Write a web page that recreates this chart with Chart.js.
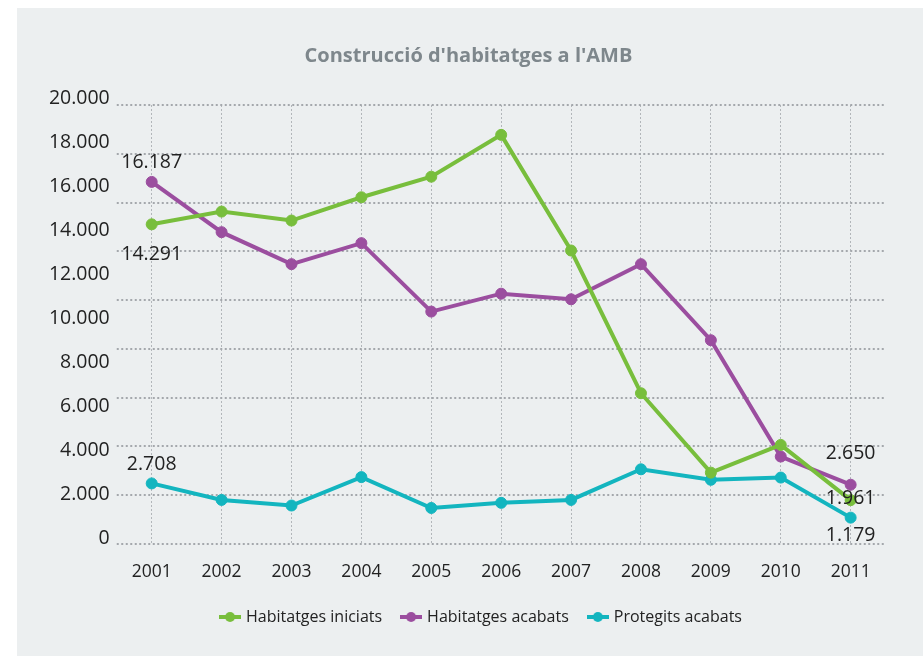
<!DOCTYPE html>
<html><head><meta charset="utf-8">
<script src="https://cdn.jsdelivr.net/npm/chart.js@4.4.1/dist/chart.umd.min.js"></script>
<style>
html,body{margin:0;padding:0;background:#fff;width:923px;height:656px;overflow:hidden}
#panel{position:absolute;left:17px;top:8px;width:906px;height:648px;background:#ECEFF0}
#c{position:absolute;left:0;top:0}
</style></head><body>
<div id="panel"></div>
<canvas id="c" width="923" height="656"></canvas>
<script>
const years = ['2001','2002','2003','2004','2005','2006','2007','2008','2009','2010','2011'];
const iniciats = [14291, 14860, 14460, 15500, 16420, 18290, 13120, 6740, 3190, 4430, 1961];
const acabats = [16187, 13940, 12510, 13450, 10390, 11190, 10940, 12510, 9110, 3910, 2650];
const protegits = [2708, 1970, 1720, 2990, 1610, 1840, 1970, 3340, 2870, 2970, 1179];
const yTicks = [0, 2000, 4000, 6000, 8000, 10000, 12000, 14000, 16000, 18000, 20000];
const gridSteps = [0, 1, 2, 3, 4, 5, 6, 7, 8, 9];
const chartTitle = "Construcció d'habitatges a l'AMB";
const seriesNames = ['Habitatges iniciats', 'Habitatges acabats', 'Protegits acabats'];
const colors = ['#78BE3C', '#9B4E9F', '#13B5BF'];

function fmt(v) {
  const s = Math.round(Math.abs(v)).toString();
  return (v < 0 ? '-' : '') + s.replace(/\B(?=(\d{3})+(?!\d))/g, '.');
}
function legendSymbol(color) {
  const c = document.createElement('canvas');
  c.width = 22; c.height = 12;
  const x = c.getContext('2d');
  x.strokeStyle = color; x.lineWidth = 4;
  x.beginPath(); x.moveTo(0, 6); x.lineTo(22, 6); x.stroke();
  x.fillStyle = color;
  x.beginPath(); x.arc(11, 6, 5, 0, Math.PI * 2); x.fill();
  return c;
}
const symbols = colors.map(legendSymbol);

const titlePlugin = {
  id: 'customTitle',
  afterDraw(chart, args, o) {
    const ctx = chart.ctx;
    ctx.save();
    ctx.font = o.font; ctx.fillStyle = o.color;
    ctx.textAlign = 'center'; ctx.textBaseline = 'alphabetic';
    ctx.fillText(o.text, o.x, o.y);
    ctx.restore();
  }
};
const pointLabels = {
  id: 'pointLabels',
  afterDatasetsDraw(chart, args, o) {
    const ctx = chart.ctx;
    ctx.save();
    ctx.font = o.font; ctx.fillStyle = o.color;
    ctx.textAlign = 'center'; ctx.textBaseline = 'alphabetic';
    o.items.forEach(it => {
      const pt = chart.getDatasetMeta(it.ds).data[it.idx];
      const v = chart.data.datasets[it.ds].data[it.idx];
      ctx.fillText(fmt(v), pt.x, pt.y + it.dy + o.capHalf);
    });
    ctx.restore();
  }
};

const seriesData = [iniciats, acabats, protegits];
new Chart(document.getElementById('c'), {
  type: 'line',
  data: {
    labels: years,
    datasets: seriesData.map((d, i) => ({
      label: seriesNames[i],
      data: d,
      xAxisID: 'x', yAxisID: 'y',
      borderColor: colors[i], backgroundColor: colors[i],
      pointBackgroundColor: colors[i], pointBorderColor: colors[i],
      borderWidth: 4, pointRadius: 5.5, pointBorderWidth: 1, pointHoverRadius: 5.5,
      tension: 0, fill: false, clip: false
    }))
  },
  options: {
    responsive: false, animation: false,
    layout: { padding: { top: 105, left: 0, right: -41, bottom: 21 } },
    scales: {
      x: {
        type: 'category', offset: true,
        grid: { display: true, offset: false, color: '#B2B6BA', lineWidth: 1, drawTicks: false },
        border: { display: false, dash: [2, 2] },
        ticks: { font: { family: 'Open Sans', size: 17.5 }, color: '#222', padding: 18, maxRotation: 0 },
        afterFit(a) { a.height = 44; }
      },
      y: { axis: 'y', display: false, min: 0, max: 19625 },
      yl: {
        axis: 'y', position: 'left', min: -259, max: 19695,
        grid: { display: false, drawTicks: false }, border: { display: false },
        ticks: { font: { family: 'Open Sans', size: 19.5 }, color: '#222', padding: 7, callback: v => fmt(v) },
        afterBuildTicks(a) { a.ticks = yTicks.map(v => ({ value: v })); },
        afterFit(a) { a.width = 116.75; }
      },
      yg: {
        axis: 'y', position: 'right', min: 0, max: 9,
        grid: { color: '#A4A8AC', lineWidth: 2, drawTicks: false },
        border: { display: false, dash: [2, 2.5] },
        ticks: { display: false },
        afterBuildTicks(a) { a.ticks = gridSteps.map(v => ({ value: v })); },
        afterFit(a) { a.width = 78.4; }
      }
    },
    plugins: {
      title: { display: false },
      tooltip: { enabled: false },
      legend: {
        position: 'bottom', align: 'center',
        labels: {
          usePointStyle: true, pointStyleWidth: 16,
          font: { family: 'Open Sans', size: 16 }, color: '#222', padding: 21,
          generateLabels(chart) {
            const items = Chart.defaults.plugins.legend.labels.generateLabels(chart);
            items.forEach((it, i) => { it.pointStyle = symbols[i]; });
            return items;
          }
        }
      },
      customTitle: { text: chartTitle, font: 'bold 20px "Open Sans"', color: '#7E878C', x: 468.5, y: 62 },
      pointLabels: {
        font: '19.5px "Open Sans"', color: '#222', capHalf: 7,
        items: [
          { ds: 0, idx: 0, dy: 29 }, { ds: 1, idx: 0, dy: -21 }, { ds: 2, idx: 0, dy: -20 },
          { ds: 1, idx: 10, dy: -33 }, { ds: 0, idx: 10, dy: -3 }, { ds: 2, idx: 10, dy: 16 }
        ]
      }
    }
  },
  plugins: [titlePlugin, pointLabels]
});
</script>
</body></html>
